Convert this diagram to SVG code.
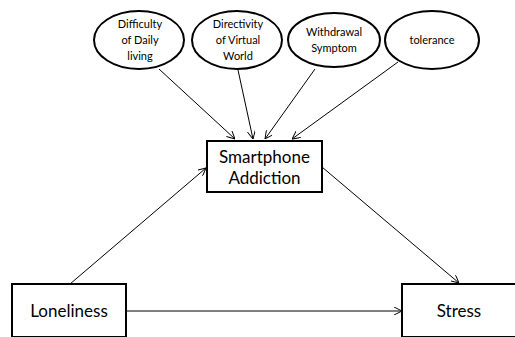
<svg xmlns="http://www.w3.org/2000/svg" width="515" height="337" viewBox="0 0 515 337">
<style>
.n{fill:#fff;stroke:#000;stroke-width:2}
.e{fill:#fff;stroke:#000;stroke-width:2}
.c line{stroke:#000;stroke-width:1;marker-end:url(#a)}
.t{font-family:Lato,"Liberation Sans",sans-serif;font-size:17px;fill:#000;text-anchor:middle}
.s{font-family:Lato,"Liberation Sans",sans-serif;font-size:11px;fill:#000;text-anchor:middle}
</style>
<defs>
<marker id="a" viewBox="0 0 10 10" refX="10" refY="5" markerWidth="8" markerHeight="8" orient="auto" markerUnits="userSpaceOnUse">
<path d="M0,0 L10,5 L0,10" fill="none" stroke="#000" stroke-width="1.2"/>
</marker>
</defs>
<rect width="515" height="337" fill="#fff"/>
<g class="c" id="connectors">
<line x1="159" y1="69" x2="235" y2="139"/>
<line x1="238" y1="70" x2="253" y2="139"/>
<line x1="315" y1="69" x2="265" y2="139"/>
<line x1="398" y1="62" x2="292" y2="139"/>
<line x1="70" y1="284" x2="206" y2="168"/>
<line x1="322" y1="167" x2="459" y2="283"/>
<line x1="126" y1="311" x2="402" y2="311"/>
</g>
<g id="n-difficulty"><ellipse class="e" cx="139" cy="40" rx="45" ry="29"/>
<text class="s" x="140" y="28">Difficulty</text><text class="s" x="140" y="44">of Daily</text><text class="s" x="140" y="60">living</text></g>
<g id="n-directivity"><ellipse class="e" cx="237" cy="40" rx="45" ry="29"/>
<text class="s" x="238" y="28">Directivity</text><text class="s" x="238" y="44">of  Virtual</text><text class="s" x="238" y="60">World</text></g>
<g id="n-withdrawal"><ellipse class="e" cx="334" cy="40" rx="46" ry="27"/>
<text class="s" x="334" y="36">Withdrawal</text><text class="s" x="334" y="52">Symptom</text></g>
<g id="n-tolerance"><ellipse class="e" cx="432" cy="40" rx="47" ry="29"/>
<text class="s" x="432" y="44">tolerance</text></g>
<g id="n-smartphone"><rect class="n" x="207" y="141" width="115" height="51"/>
<text class="t" x="264.5" y="163">Smartphone</text><text class="t" x="264.5" y="184">Addiction</text></g>
<g id="n-loneliness"><rect class="n" x="12" y="284" width="114" height="53"/>
<text class="t" x="69" y="317">Loneliness</text></g>
<g id="n-stress"><rect class="n" x="402" y="284" width="115" height="53"/>
<text class="t" x="459" y="317">Stress</text></g>
</svg>
